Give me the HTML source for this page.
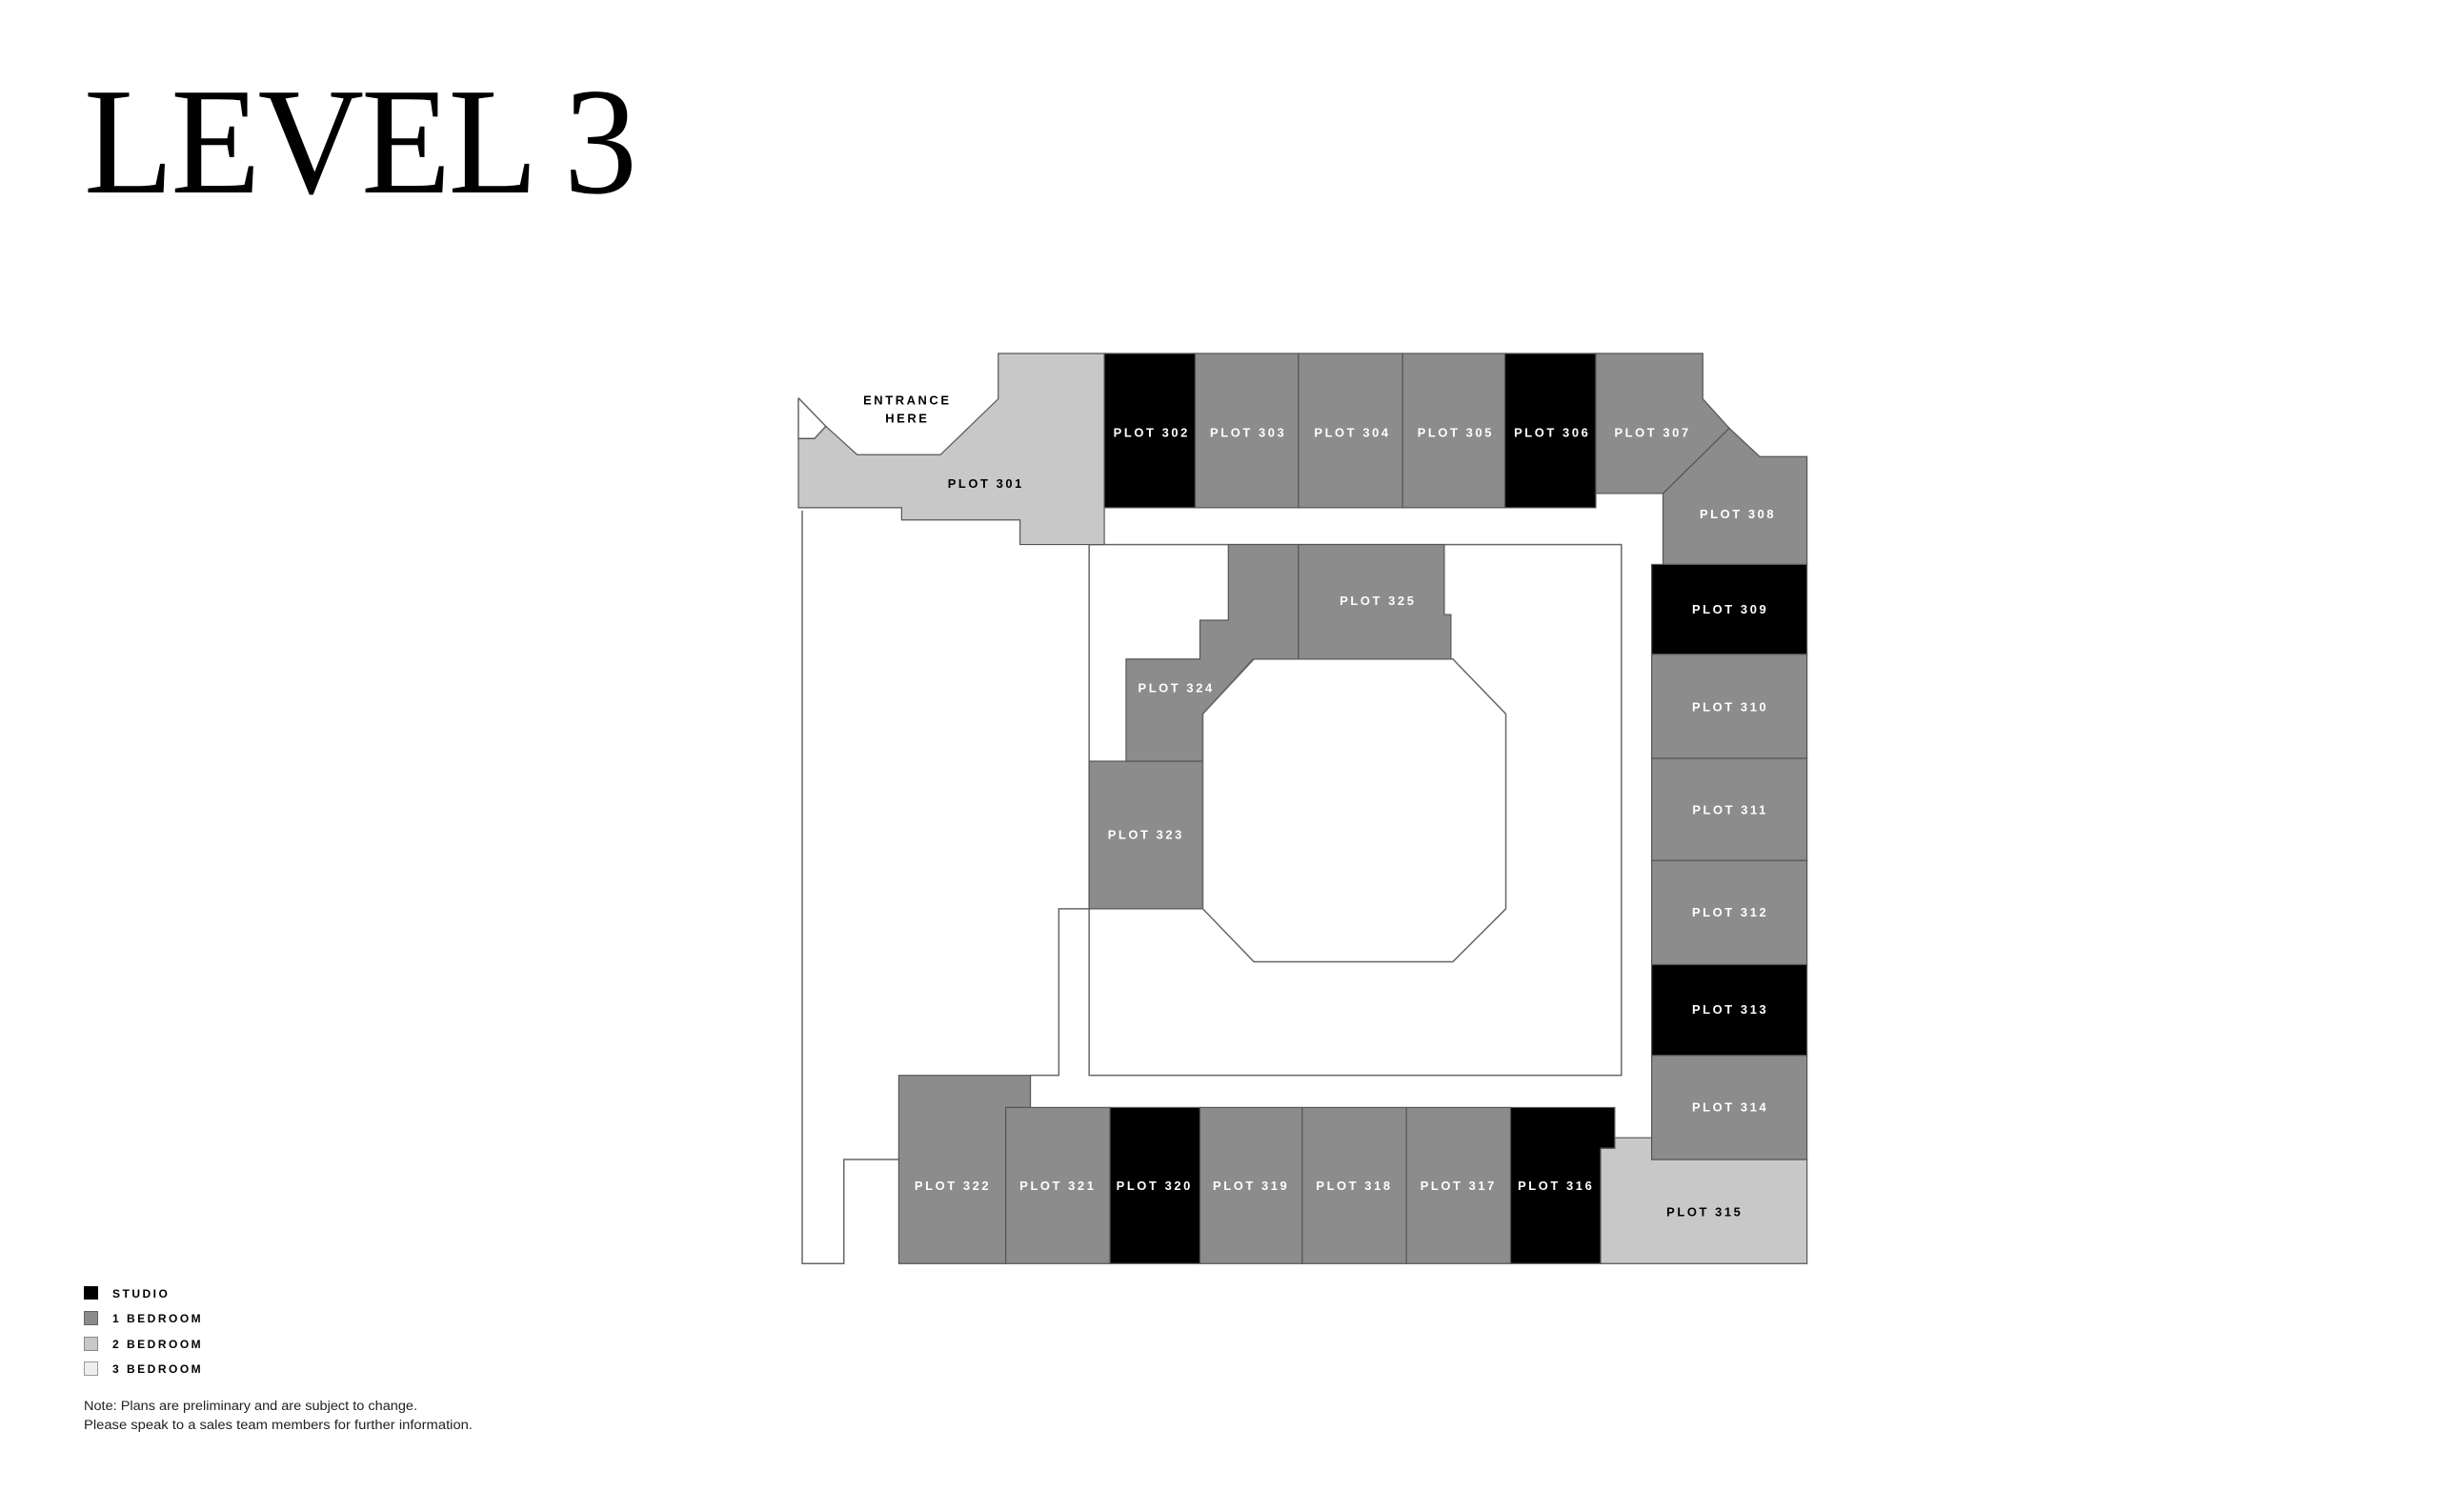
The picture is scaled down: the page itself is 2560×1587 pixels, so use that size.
<!DOCTYPE html>
<html><head><meta charset="utf-8"><style>
html,body{margin:0;padding:0;background:#fff;}
svg{display:block;}
.t{font-family:"Liberation Sans",sans-serif;font-weight:bold;font-size:13px;letter-spacing:2.6px;text-anchor:middle;}
.w{fill:#fff;} .b{fill:#000;}
</style></head><body>
<svg width="2560" height="1587" viewBox="0 0 2560 1587" xmlns="http://www.w3.org/2000/svg">
<rect width="2560" height="1587" fill="#fff"/>
<text x="88" y="202" font-family="Liberation Serif, serif" font-size="160" letter-spacing="-3" textLength="578" lengthAdjust="spacingAndGlyphs" fill="#000">LEVEL 3</text>

<g transform="translate(842,371) scale(0.994,0.993) translate(-842,-371)">
<g stroke="#666" stroke-width="1.5" fill="none">
<polyline points="842,537 842,1333 886,1333 886,1223 944,1223"/>
<polyline points="1145,958 1113,958 1113,1134 1083,1134"/>
<rect x="1145" y="573" width="562" height="561"/>
<polyline points="838,418 838,461 855,461 867,448 838,418"/>
</g>

<g stroke="#555" stroke-width="1.2">
<polygon fill="#c8c8c8" points="1049,371 1161,371 1161,573 1072,573 1072,547 947,547 947,534 838,534 838,461 855,461 867,448 900,478 988,478 1049,419"/>
<rect fill="#000" x="1161" y="371" width="96" height="163"/>
<rect fill="#8c8c8c" x="1257" y="371" width="109" height="163"/>
<rect fill="#8c8c8c" x="1366" y="371" width="110" height="163"/>
<rect fill="#8c8c8c" x="1476" y="371" width="108" height="163"/>
<rect fill="#000" x="1584" y="371" width="96" height="163"/>
<polygon fill="#8c8c8c" points="1680,371 1793,371 1793,419 1821,450 1751,519 1680,519"/>
<polygon fill="#8c8c8c" points="1821,450 1853,480 1903,480 1903,594 1751,594 1751,519"/>
<rect fill="#000" x="1739" y="594" width="164" height="95"/>
<rect fill="#8c8c8c" x="1739" y="689" width="164" height="110"/>
<rect fill="#8c8c8c" x="1739" y="799" width="164" height="108"/>
<rect fill="#8c8c8c" x="1739" y="907" width="164" height="110"/>
<rect fill="#000" x="1739" y="1017" width="164" height="96"/>
<polygon fill="#c8c8c8" points="1700,1200 1739,1200 1739,1223 1903,1223 1903,1333 1685,1333 1685,1211 1700,1211"/>
<rect fill="#8c8c8c" x="1739" y="1113" width="164" height="110"/>
<polygon fill="#8c8c8c" points="944,1134 1083,1134 1083,1168 1057,1168 1057,1333 944,1333"/>
<rect fill="#8c8c8c" x="1057" y="1168" width="110" height="165"/>
<rect fill="#000" x="1167" y="1168" width="95" height="165"/>
<rect fill="#8c8c8c" x="1262" y="1168" width="108" height="165"/>
<rect fill="#8c8c8c" x="1370" y="1168" width="110" height="165"/>
<rect fill="#8c8c8c" x="1480" y="1168" width="110" height="165"/>
<polygon fill="#000" points="1590,1168 1700,1168 1700,1211 1685,1211 1685,1333 1590,1333"/>
<rect fill="#8c8c8c" x="1145" y="802" width="120" height="156"/>
<polygon fill="#8c8c8c" points="1292,573 1366,573 1366,694 1318,694 1265,752 1265,802 1184,802 1184,694 1262,694 1262,653 1292,653"/>
<polygon fill="#8c8c8c" points="1366,573 1520,573 1520,647 1527,647 1527,694 1366,694"/>
</g>
<polygon fill="none" stroke="#666" stroke-width="1.5" points="1319,694 1529,694 1585,752 1585,958 1529,1014 1319,1014 1265,958 1265,752"/>

<text class="t b" x="953" y="425">ENTRANCE</text>
<text class="t b" x="953" y="444">HERE</text>
<text class="t b" x="1036" y="513">PLOT 301</text>
<text class="t w" x="1211" y="459">PLOT 302</text>
<text class="t w" x="1313" y="459">PLOT 303</text>
<text class="t w" x="1423" y="459">PLOT 304</text>
<text class="t w" x="1532" y="459">PLOT 305</text>
<text class="t w" x="1634" y="459">PLOT 306</text>
<text class="t w" x="1740" y="459">PLOT 307</text>
<text class="t w" x="1830" y="545">PLOT 308</text>
<text class="t w" x="1822" y="646">PLOT 309</text>
<text class="t w" x="1822" y="749">PLOT 310</text>
<text class="t w" x="1822" y="858">PLOT 311</text>
<text class="t w" x="1822" y="966">PLOT 312</text>
<text class="t w" x="1822" y="1069">PLOT 313</text>
<text class="t w" x="1822" y="1172">PLOT 314</text>
<text class="t b" x="1795" y="1283">PLOT 315</text>
<text class="t w" x="1638" y="1255">PLOT 316</text>
<text class="t w" x="1535" y="1255">PLOT 317</text>
<text class="t w" x="1425" y="1255">PLOT 318</text>
<text class="t w" x="1316" y="1255">PLOT 319</text>
<text class="t w" x="1214" y="1255">PLOT 320</text>
<text class="t w" x="1112" y="1255">PLOT 321</text>
<text class="t w" x="1001" y="1255">PLOT 322</text>
<text class="t w" x="1205" y="884">PLOT 323</text>
<text class="t w" x="1237" y="729">PLOT 324</text>
<text class="t w" x="1450" y="637">PLOT 325</text>
</g>

<g font-family="Liberation Sans, sans-serif" font-weight="bold" font-size="12" letter-spacing="2.5">
<rect x="88" y="1350" width="15" height="14" fill="#000"/>
<text x="118" y="1362">STUDIO</text>
<rect x="88.5" y="1376.5" width="14" height="14" fill="#8c8c8c" stroke="#666"/>
<text x="118" y="1388">1 BEDROOM</text>
<rect x="88.5" y="1403.5" width="14" height="14" fill="#c8c8c8" stroke="#888"/>
<text x="118" y="1415">2 BEDROOM</text>
<rect x="88.5" y="1429.5" width="14" height="14" fill="#eee" stroke="#999"/>
<text x="118" y="1441">3 BEDROOM</text>
</g>
<g font-family="Liberation Sans, sans-serif" font-size="13.5" fill="#222">
<text x="88" y="1480" textLength="350" lengthAdjust="spacingAndGlyphs">Note: Plans are preliminary and are subject to change.</text>
<text x="88" y="1500" textLength="408" lengthAdjust="spacingAndGlyphs">Please speak to a sales team members for further information.</text>
</g>
</svg>
</body></html>
